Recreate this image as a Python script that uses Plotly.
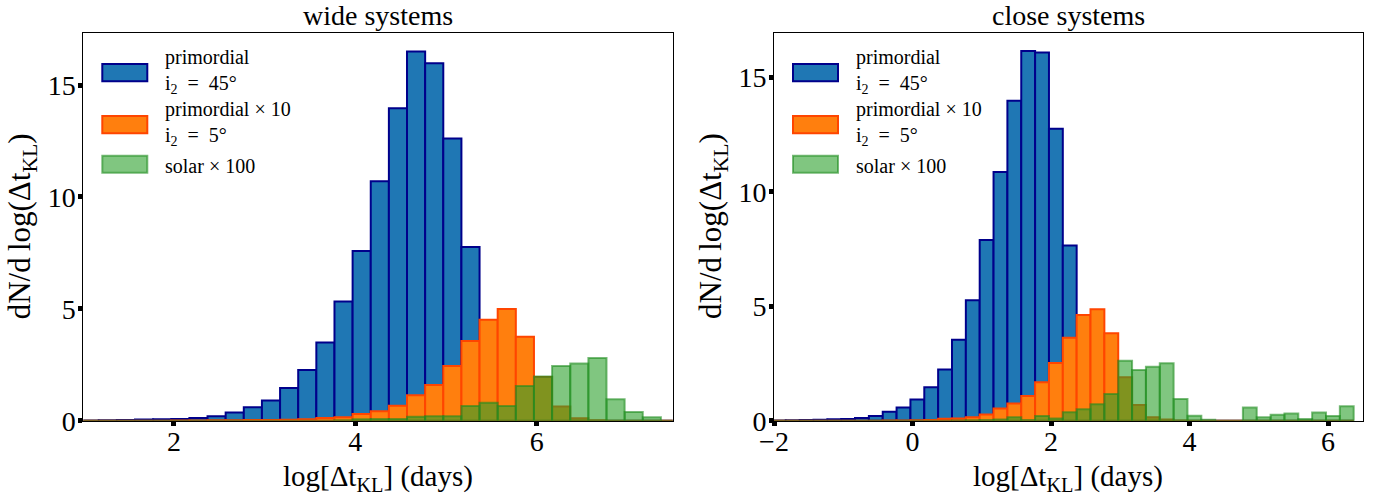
import numpy as np
import plotly.graph_objects as go

# ---------------- data ----------------
BIN_W = 0.2
wide_first_edge = 0.97
close_first_edge = -2.03

wide_primordial45 = [0.01, 0.02, 0.03, 0.05, 0.06, 0.08, 0.12, 0.2, 0.37, 0.6, 0.9, 1.46,
                     2.27, 3.49, 5.33, 7.59, 10.7, 13.96, 16.5, 15.98, 12.61, 7.76, 3.4,
                     1.6, 0.6, 0.2, 0.06, 0.02, 0.0, 0.0, 0.0, 0.0, 0.0]
wide_primordial5x10 = [0.0, 0.0, 0.0, 0.0, 0.0, 0.01, 0.01, 0.02, 0.02, 0.03, 0.03, 0.04,
                       0.07, 0.12, 0.15, 0.3, 0.42, 0.67, 1.14, 1.59, 2.44, 3.56, 4.51,
                       4.99, 3.75, 1.95, 0.63, 0.11, 0.02, 0.0, 0.0, 0.0, 0.0]
wide_solarx100 = [0.0, 0.0, 0.0, 0.0, 0.0, 0.0, 0.0, 0.0, 0.0, 0.0, 0.0, 0.0,
                  0.0, 0.0, 0.02, 0.07, 0.08, 0.08, 0.18, 0.2, 0.2, 0.66, 0.8,
                  0.66, 1.55, 1.97, 2.44, 2.56, 2.80, 0.96, 0.39, 0.15, 0.0]

close_primordial45 = [0.01, 0.02, 0.03, 0.04, 0.06, 0.07, 0.12, 0.2, 0.39, 0.58, 0.93, 1.46,
                      2.24, 3.54, 5.26, 7.89, 10.87, 13.98, 16.15, 16.09, 12.75, 7.65, 3.3,
                      1.4, 0.5, 0.15, 0.05, 0.0, 0.0, 0.0, 0.0, 0.0, 0.0, 0.0, 0.0, 0.0,
                      0.0, 0.0, 0.0, 0.0, 0.0, 0.0]
close_primordial5x10 = [0.0, 0.0, 0.0, 0.0, 0.0, 0.0, 0.0, 0.0, 0.01, 0.01, 0.02, 0.03,
                        0.09, 0.1, 0.15, 0.27, 0.53, 0.75, 1.08, 1.68, 2.52, 3.62, 4.62,
                        4.87, 3.82, 1.9, 0.69, 0.15, 0.05, 0.01, 0.0, 0.0, 0.0, 0.0, 0.0,
                        0.0, 0.0, 0.0, 0.0, 0.0, 0.0, 0.0]
close_solarx100 = [0.0, 0.0, 0.0, 0.0, 0.0, 0.0, 0.0, 0.0, 0.0, 0.0, 0.0, 0.0,
                   0.0, 0.01, 0.02, 0.03, 0.05, 0.15, 0.03, 0.2, 0.1, 0.37, 0.5,
                   0.72, 1.17, 2.62, 2.21, 2.36, 2.51, 0.95, 0.22, 0.04, 0.0, 0.0,
                   0.58, 0.15, 0.26, 0.32, 0.07, 0.36, 0.2, 0.63]

panel_titles = ["wide systems", "close systems"]
legend_labels = ["primordial<br>i<sub>2</sub>  =  45°",
                 "primordial × 10<br>i<sub>2</sub>  =  5°",
                 "solar × 100"]
x_label = "log[Δt<sub>KL</sub>] (days)"
y_label = "dN/d\u2009log(Δt<sub>KL</sub>)"

# ---------------- styles ----------------
W, H = 1381, 504
FONT = "Liberation Serif"
styles = [
    dict(fill="#1f77b4", line="#00008b"),
    dict(fill="#ff7f0e", line="#ff4500"),
    dict(fill="rgba(44,160,44,0.6)", line="rgba(30,140,30,0.6)"),
]

def centers(first_edge, n):
    return first_edge + BIN_W * (np.arange(n) + 0.5)

fig = go.Figure()
panels = [
    ("x", "y", wide_first_edge, [wide_primordial45, wide_primordial5x10, wide_solarx100]),
    ("x2", "y2", close_first_edge, [close_primordial45, close_primordial5x10, close_solarx100]),
]
for xa, ya, fe, series in panels:
    for vals, st in zip(series, styles):
        fig.add_trace(go.Bar(
            x=centers(fe, len(vals)), y=vals, width=BIN_W,
            marker=dict(color=st["fill"], line=dict(color=st["line"], width=2)),
            xaxis=xa, yaxis=ya, showlegend=False, hoverinfo="x+y",
        ))

def px_x(p):
    return p / W

def px_y(p):
    return 1 - p / H

# axis frames (pixels in the screenshot)
frames = [(83.3, 672.7), (774.0, 1362.7)]
top_px, bot_px = 32.5, 420.7

axis_common = dict(
    showgrid=False, zeroline=False, showline=True, linecolor="black", linewidth=1,
    mirror=True, ticks="outside", ticklen=4, tickwidth=5, tickcolor="black",
    tickfont=dict(family=FONT, size=28, color="black"), automargin=False,
)
fig.update_layout(
    xaxis=dict(domain=[px_x(frames[0][0]), px_x(frames[0][1])], range=[1.0, 7.5],
               tickvals=[2, 4, 6], anchor="y", ticklabelstandoff=-8, **axis_common),
    yaxis=dict(domain=[px_y(bot_px), px_y(top_px)], range=[0, 17.35],
               tickvals=[0, 5, 10, 15], anchor="x", ticklabelstandoff=-3, **axis_common),
    xaxis2=dict(domain=[px_x(frames[1][0]), px_x(frames[1][1])], range=[-2, 6.5],
                tickvals=[-2, 0, 2, 4, 6], anchor="y2", ticklabelstandoff=-8, **axis_common),
    yaxis2=dict(domain=[px_y(bot_px), px_y(top_px)], range=[0, 16.96],
                tickvals=[0, 5, 10, 15], anchor="x2", ticklabelstandoff=-3, **axis_common),
    barmode="overlay",
    width=W, height=H,
    margin=dict(l=0, r=0, t=0, b=0),
    paper_bgcolor="white", plot_bgcolor="white",
    font=dict(family=FONT, color="black"),
    showlegend=False,
)

annotations = []
shapes = []
legend_patch_rows = [(64.0, 81.3), (116.0, 133.3), (155.7, 172.7)]
legend_text_y = [71.5, 123.5, 166.0]
for i, (fl, fr) in enumerate(frames):
    cx = (fl + fr) / 2
    annotations.append(dict(text=panel_titles[i], x=px_x(cx), y=px_y(top_px + 1),
                            xref="paper", yref="paper", xanchor="center", yanchor="bottom",
                            showarrow=False, font=dict(family=FONT, size=28, color="black")))
    annotations.append(dict(text=x_label, x=px_x(cx), y=px_y(478),
                            xref="paper", yref="paper", xanchor="center", yanchor="middle",
                            showarrow=False, font=dict(family=FONT, size=29, color="black")))
    annotations.append(dict(text=y_label, x=px_x(fl - 61), y=px_y(226),
                            xref="paper", yref="paper", xanchor="center", yanchor="middle",
                            textangle=-90, showarrow=False,
                            font=dict(family=FONT, size=31, color="black")))
    for (t0, t1), ty, lab, st in zip(legend_patch_rows, legend_text_y, legend_labels, styles):
        shapes.append(dict(type="rect", xref="paper", yref="paper",
                           x0=px_x(fl + 19), x1=px_x(fl + 64), y0=px_y(t1), y1=px_y(t0),
                           fillcolor=st["fill"], line=dict(color=st["line"], width=2)))
        annotations.append(dict(text=lab, x=px_x(fl + 80), y=px_y(ty),
                                xref="paper", yref="paper", xanchor="left", yanchor="middle",
                                align="left", showarrow=False,
                                font=dict(family=FONT, size=20, color="black")))

fig.update_layout(annotations=annotations, shapes=shapes)
fig.write_html("out.html", config={"displayModeBar": False},
               post_script="document.body.style.margin='0';document.body.style.overflow='hidden';")
